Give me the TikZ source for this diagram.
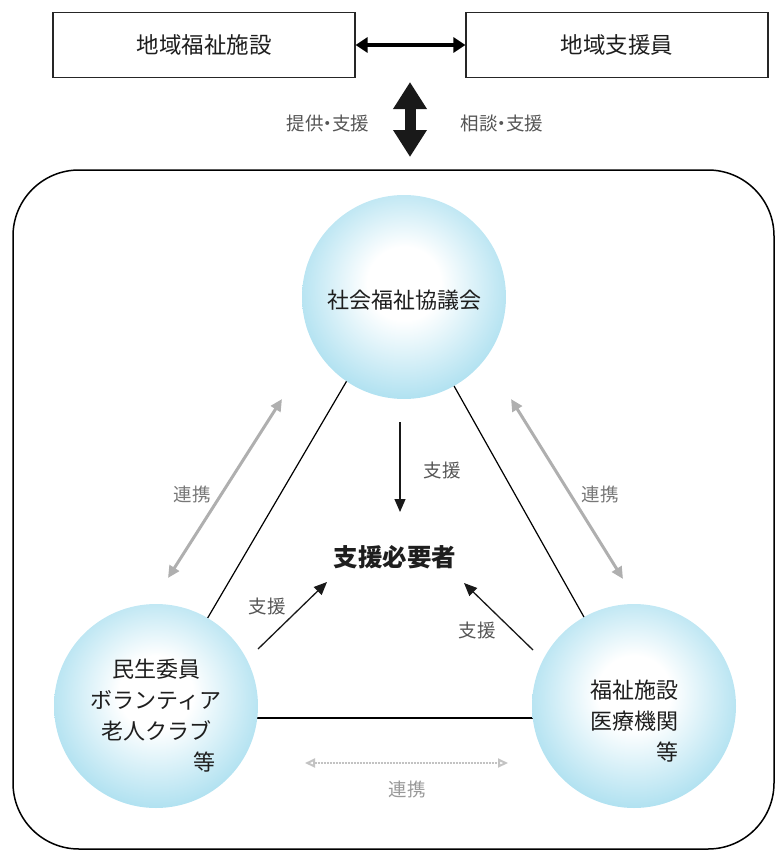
\documentclass[tikz,border=0pt]{standalone}
\usepackage{fontspec}
\setmainfont{Noto Sans CJK JP}
\usetikzlibrary{arrows.meta}
\definecolor{ballc}{RGB}{136,210,233}
\definecolor{txt}{RGB}{30,30,30}
\definecolor{lbl}{RGB}{85,85,85}
\definecolor{link}{RGB}{175,175,175}
\definecolor{linklt}{RGB}{195,195,195}
\pgfdeclareradialshading{ball}{\pgfpoint{0bp}{4bp}}{color(0bp)=(white); color(9bp)=(white); color(36bp)=(ballc); color(50bp)=(ballc)}
\newcommand{\ndot}{\makebox[0.45em]{・}}
\tikzset{
  topbox/.style={draw=black!85, line width=1.2pt, minimum width=302pt, minimum height=65pt, inner sep=0pt,
    font=\fontsize{22.5}{26}\selectfont, text=txt},
  ball/.style={circle, shading=ball, minimum size=204pt, inner sep=0pt},
  balltext/.style={align=center, inner sep=0pt, font=\fontsize{22}{31}\selectfont, text=txt},
  tri/.style={draw=black, line width=1.2pt},
  supp/.style={draw=black!90, line width=1.3pt, -{Triangle[width=11pt,length=13pt]}},
  supplbl/.style={font=\fontsize{18.5}{20}\selectfont, text=lbl},
  linkarr/.style={draw=link, line width=3pt, {Triangle[width=11pt,length=12pt]}-{Triangle[width=11pt,length=12pt]}},
  linklbl/.style={font=\fontsize{18.5}{20}\selectfont, text=lbl!80},
}
\begin{document}
\begin{tikzpicture}[x=1pt,y=-1pt]
\useasboundingbox (0,0) rectangle (775,851);
% outer frame
\draw[line width=1.5pt, rounded corners=66pt] (13,170) rectangle (774,849);
% top boxes
\node[topbox] (wf) at (204,45) {地域福祉施設};
\node[topbox] (sup) at (617,45) {地域支援員};
\draw[line width=4pt, {Triangle[width=15pt,length=12pt]}-{Triangle[width=15pt,length=12pt]}] (wf.east) -- (sup.west);
% vertical big arrow
\coordinate (vt) at (410,82);
\coordinate (vb) at (410,157);
\draw[line width=11pt, black!90, {Triangle[width=32pt,length=27pt]}-{Triangle[width=32pt,length=27pt]}] (vt) -- (vb);
\node[supplbl] (l1) at (328,123) {提供\ndot 支援};
\node[supplbl] (l2) at (502,123) {相談\ndot 支援};
% circles
\coordinate (cT) at (404,297);
\coordinate (cL) at (156,706);
\coordinate (cR) at (634,706);
\draw[tri] ([xshift=-8pt]cT) -- (cL);
\draw[tri] (cT) -- (cR);
\draw[tri] ([yshift=-12pt]cL) -- ([yshift=-12pt]cR);
\node[ball] (shakyo) at (cT) {};
\node[balltext] (shakyoT) at ([yshift=-3pt]cT) {社会福祉協議会};
\node[ball] (minsei) at (cL) {};
\node[balltext] (minseiT) at ([yshift=-10pt]cL) {民生委員\\ボランティア\\老人クラブ\\\makebox[5.4em][r]{等}};
\node[ball] (fukushi) at (cR) {};
\node[balltext] (fukushiT) at ([yshift=-15pt]cR) {福祉施設\\医療機関\\\makebox[4em][r]{等}};
% center
\node[font=\fontsize{24.5}{28}\selectfont\bfseries, text=txt] (need) at (395,557) {支援必要者};
% support arrows
\coordinate (s1a) at (400,422);
\coordinate (s1b) at (400,512);
\draw[supp] (s1a) -- (s1b);
\node[supplbl] (sl1) at (442,470) {支援};
\coordinate (s2a) at (258,649);
\coordinate (s2b) at (327,582);
\draw[supp] (s2a) -- (s2b);
\node[supplbl] (sl2) at (267,606) {支援};
\coordinate (s3a) at (533,650);
\coordinate (s3b) at (464,583);
\draw[supp] (s3a) -- (s3b);
\node[supplbl] (sl3) at (477,630) {支援};
% link arrows
\coordinate (k1a) at (168,578);
\coordinate (k1b) at (282,399);
\draw[linkarr] (k1a) -- (k1b);
\node[linklbl] (kl1) at (192,494) {連携};
\coordinate (k2a) at (511,399);
\coordinate (k2b) at (623,579);
\draw[linkarr] (k2a) -- (k2b);
\node[linklbl] (kl2) at (600,494) {連携};
\coordinate (k3a) at (305,763);
\coordinate (k3b) at (508,763);
\draw[draw=linklt, line width=2pt, densely dotted, {Triangle[width=9pt,length=10pt,open]}-{Triangle[width=9pt,length=10pt,open]}] (k3a) -- (k3b);
\node[linklbl, text=lbl!60] (kl3) at (407,789) {連携};
\end{tikzpicture}
\end{document}
